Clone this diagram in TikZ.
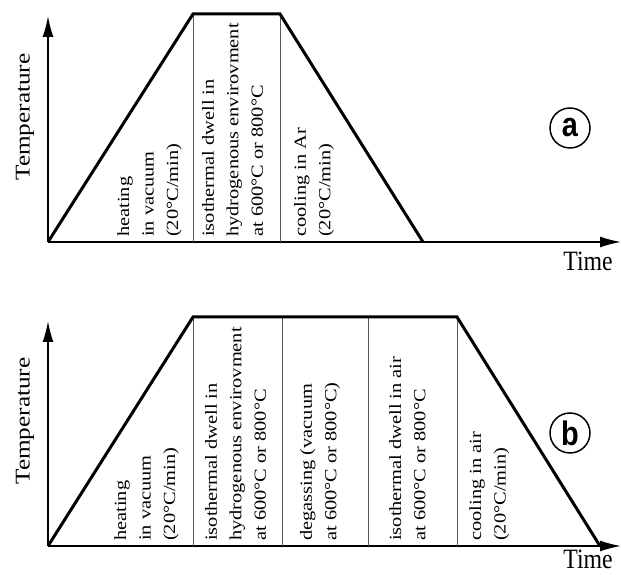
\documentclass[tikz,border=0pt]{standalone}
\usepackage{fontspec}
\setmainfont{Liberation Serif}
\setsansfont{Liberation Sans}
\newfontfamily\tallserif[FakeStretch=1.2]{Liberation Serif}% rotated texts, drawn tall
\newfontfamily\wideserif[FakeStretch=0.85]{Liberation Serif}% upright texts, drawn tall
\newfontfamily\tagfont[FakeStretch=0.85]{Liberation Sans Bold}
\usepackage{tikz}
\usetikzlibrary{arrows.meta, calc, positioning}
\tikzset{
    x=1pt, y=1pt,% one unit is one pixel of the page
    axis/.style = {line width=1.6pt, -{Latex[length=21pt,width=11pt]}}, % the two axes with their heads
    cycle/.style = {line width=3pt, line join=miter}, % the temperature run
    divider/.style = {line width=1pt, black!65}, % thin line between two stages
    stage/.style = {rotate=90, align=left, inner sep=0pt,
                    font=\tallserif\fontsize{17}{24.5}\selectfont}, % text of one stage, read upwards
    ylab/.style = {rotate=90, inner sep=0pt, font=\tallserif\fontsize{21}{21}\selectfont},
    xlab/.style = {anchor=base, inner sep=0pt, font=\wideserif\fontsize{28}{28}\selectfont},
    tag/.style = {circle, draw, line width=1.5pt, minimum size=40pt, inner sep=0pt,
                  font=\tagfont\fontsize{34}{34}\selectfont}
}
\begin{document}
\begin{tikzpicture}
\clip (0,0) rectangle (621,575);
% panel (a)
\coordinate (Oa) at (48,333);
\coordinate (Ya) at (48,559);
\coordinate (Xa) at (621,333);
\coordinate (Pa1) at (193,561);
\coordinate (Pa2) at (280,561);
\coordinate (Ea) at (423,333);
\draw[axis] (Oa) -- (Ya);
\draw[axis] (Oa) -- (Xa);
\draw[divider] (Pa1) -- (Pa1 |- Oa);
\draw[divider] (Pa2) -- (Pa2 |- Oa);
\draw[cycle] (Oa) -- (Pa1) -- (Pa2) -- (Ea);
\node[ylab] (temp-a) at (25,458) {Temperature};
\node[xlab] (time-a) at (588,304) {Time};
\node[tag] (tag-a) at (570,447) {a};
\node[stage, anchor=south west] (heat-a) at ($(Pa1 |- Oa)+(-11,5)$) {heating\\in vacuum\\(20°C/min)};
\node[stage, anchor=north west] (dwell-a) at ($(Pa1 |- Oa)+(9,5)$) {isothermal dwell in\\hydrogenous envirovment\\at 600°C or 800°C};
\node[stage, anchor=north west] (cool-a) at ($(Pa2 |- Oa)+(14,5)$) {cooling in Ar\\(20°C/min)};
% panel (b)
\coordinate (Ob) at (48,29);
\coordinate (Yb) at (48,254);
\coordinate (Xb) at (621,29);
\coordinate (Pb1) at (193,258);
\coordinate (Pb2) at (282,258);
\coordinate (Pb3) at (368,258);
\coordinate (Pb4) at (457,258);
\coordinate (Eb) at (600,29);
\draw[axis] (Ob) -- (Yb);
\draw[axis] (Ob) -- (Xb);
\foreach \p in {Pb1,Pb2,Pb3,Pb4}
  \draw[divider] (\p) -- (\p |- Ob);
\draw[cycle] (Ob) -- (Pb1) -- (Pb4) -- (Eb);
\node[ylab] (temp-b) at (25,154) {Temperature};
\node[xlab] (time-b) at (588,6) {Time};
\node[tag] (tag-b) at (570,142) {b};
\node[stage, anchor=south west] (heat-b) at ($(Pb1 |- Ob)+(-14,5)$) {heating\\in vacuum\\(20°C/min)};
\node[stage, anchor=north west] (dwell-b) at ($(Pb1 |- Ob)+(12,5)$) {isothermal dwell in\\hydrogenous envirovment\\at 600°C or 800°C};
\node[stage, anchor=north west] (degas-b) at ($(Pb2 |- Ob)+(18,5)$) {degassing (vacuum\\at 600°C or 800°C)};
\node[stage, anchor=north west] (air-b) at ($(Pb3 |- Ob)+(21,5)$) {isothermal dwell in air\\at 600°C or 800°C};
\node[stage, anchor=north west] (cool-b) at ($(Pb4 |- Ob)+(12,5)$) {cooling in air\\(20°C/min)};
\end{tikzpicture}
\end{document}
